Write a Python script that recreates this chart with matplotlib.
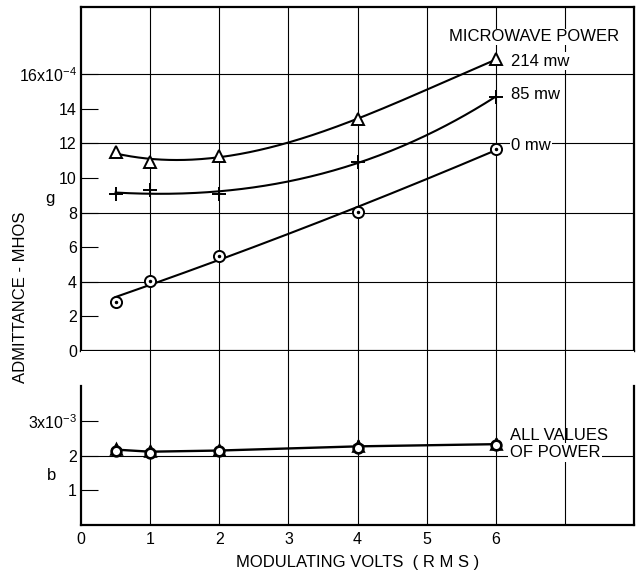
import numpy as np
import matplotlib.pyplot as plt

plt.rcParams['font.family'] = ['Liberation Sans', 'DejaVu Sans']
plt.rcParams['mathtext.default'] = 'regular'

# values
volts = [0.5, 1, 2, 4, 6]
g_214 = [11.5, 10.95, 11.3, 13.4, 16.85]
g_85 = [9.05, 9.3, 9.1, 10.9, 14.7]
g_0 = [2.85, 4.05, 5.5, 8.05, 11.7]

b_214 = [2.2, 2.12, 2.15, 2.27, 2.33]
b_85 = [2.18, 2.14, 2.16, 2.3, 2.35]
b_0 = [2.13, 2.07, 2.12, 2.22, 2.3]

power_labels = ['214 mw', '85 mw', '0 mw']
g_ticks = [0, 2, 4, 6, 8, 10, 12, 14, 16]
g_ticklabels = ['0', '2', '4', '6', '8', '10', '12', '14', '16x10$^{-4}$']
b_ticks = [1, 2, 3]
b_ticklabels = ['1', '2', '3x10$^{-3}$']
x_ticks = [0, 1, 2, 3, 4, 5, 6]

k = 'black'
fs = 12
fig = plt.figure(figsize=(6.4, 5.73), dpi=100)
ax = fig.add_axes([0.1266, 0.3874, 0.8641, 0.6009])
ax2 = fig.add_axes([0.1266, 0.0838, 0.8641, 0.3037])

# ---- upper panel: conductance g
ax.set_xlim(0, 8)
ax.set_ylim(0, 19.9)
for xv in range(1, 8):
    ax.axvline(xv, color=k, lw=0.8, zorder=1)
for yv in [4, 8, 12, 16]:
    ax.axhline(yv, color=k, lw=0.8, zorder=1)

series = [(g_214, '^', 3), (g_85, '+', 3), (g_0, 'o', 2)]
xs = np.linspace(volts[0], volts[-1], 200)
for vals, mk, deg in series:
    c = np.polyfit(volts, vals, deg)
    ax.plot(xs, np.polyval(c, xs), color=k, lw=1.5, zorder=3)
    ax.plot(volts, vals, ls='none', marker=mk, ms=8 if mk != '+' else 10,
            mfc='white', mec=k, mew=1.4, zorder=4)
# dot in the middle of the circles
ax.plot(volts, g_0, ls='none', marker='o', ms=1.5, color=k, zorder=5)

ax.set_xticks([])
ax.set_yticks(g_ticks)
ax.set_yticklabels(g_ticklabels, fontsize=11.5)
ax.tick_params(axis='y', direction='in', length=12, width=0.8, pad=3)
for s in ax.spines.values():
    s.set_linewidth(1.6)

ax.text(5.33, 18.15, 'MICROWAVE POWER', fontsize=fs, va='center', ha='left',
        zorder=5, bbox=dict(fc='white', ec='none', pad=0.5))
lab_y = [16.76, 14.8, 11.85]
for lab, yy in zip(power_labels, lab_y):
    ax.text(6.22, yy, lab, fontsize=fs, va='center', ha='left', zorder=5,
            bbox=dict(fc='white', ec='none', pad=1.0))

# ---- lower panel: susceptance b
ax2.set_xlim(0, 8)
ax2.set_ylim(0, 5.01)
for xv in range(1, 8):
    ax2.axvline(xv, color=k, lw=0.8, zorder=1)
ax2.axhline(2, color=k, lw=0.8, zorder=1)

b_mean = np.mean([b_214, b_85, b_0], axis=0)
ax2.plot(volts, b_mean, color=k, lw=1.7, zorder=3)
for vals, mk in [(b_214, '^'), (b_85, '+'), (b_0, 'o')]:
    ax2.plot(volts, vals, ls='none', marker=mk, ms=7, mfc='white',
             mec=k, mew=1.9, zorder=4)

ax2.set_xticks(x_ticks)
ax2.set_xticklabels([str(v) for v in x_ticks], fontsize=11.5)
ax2.tick_params(axis='x', length=0, pad=5)
ax2.set_yticks(b_ticks)
ax2.set_yticklabels(b_ticklabels, fontsize=11.5)
ax2.tick_params(axis='y', direction='in', length=12, width=0.8, pad=3)
ax2.spines['top'].set_visible(False)
ax2.spines['left'].set_bounds(0, 4)
ax2.spines['right'].set_bounds(0, 4)
for s in ax2.spines.values():
    s.set_linewidth(1.6)

ax2.text(6.2, 2.59, 'ALL VALUES', fontsize=fs, va='center', ha='left')
ax2.text(6.2, 2.08, 'OF POWER', fontsize=fs, va='center', ha='left', zorder=5,
         bbox=dict(fc='white', ec='none', pad=1.5))
ax2.set_xlabel('MODULATING VOLTS  ( R M S )', fontsize=fs, labelpad=6)

fig.text(21 / 640, 1 - 297 / 573, 'ADMITTANCE - MHOS', rotation=90,
         fontsize=fs, ha='center', va='center')
fig.text(50 / 640, 1 - 198 / 573, 'g', fontsize=fs, ha='center', va='center')
fig.text(52 / 640, 1 - 475 / 573, 'b', fontsize=fs, ha='center', va='center')

fig.savefig('out.png', dpi=100)
